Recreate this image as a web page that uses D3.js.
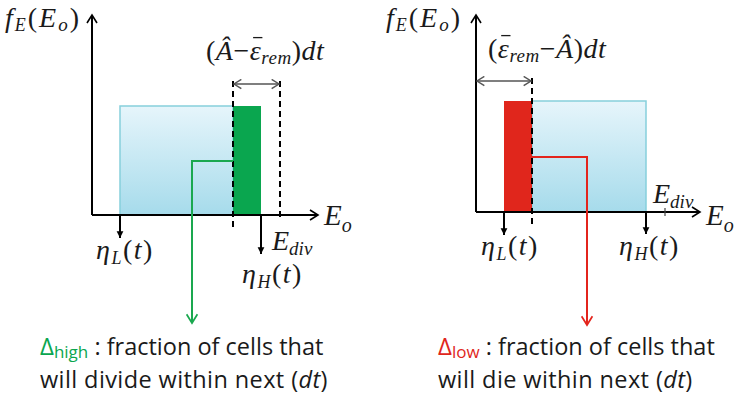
<!DOCTYPE html>
<html>
<head>
<meta charset="utf-8">
<script src="https://cdn.jsdelivr.net/npm/d3@7"></script>
<style>
  body { margin: 0; background: #fff; }
  svg { display: block; }
</style>
</head>
<body>
<script>
// energy values (abstract units) for the two panels: [divide, die]
const panelNames = ["high", "low"];
const etaL = [2.8, 2.8];
const etaH = [16.9, 17.0];
const eCut = [14.1, 5.6];      // where the (A - eps)dt band starts/ends
const eDiv = [18.8, 18.9];
const axisMax = [22.6, 22.4];
const yMax = [1.0, 0.985];
const density = [0.545, 0.555];
const deltaLevel = [0.27, 0.275];
const deltaX = [10.0, 11.1];
const bandColors = ["#0aa64f", "#e0261c"];
const captionLine1 = [" : fraction of cells that", " : fraction of cells that"];
const captionLine2 = ["will divide within next (", "will die within next ("];

const width = 735;
const height = 401;

// layout of each panel
const originX = [92, 476];
const originY = [215, 212];
const pxPerE = 10;
const pxPerY = 200;
const deltaEndY = [323, 325];

const svg = d3.select("body").append("svg")
  .attr("width", width)
  .attr("height", height);

const defs = svg.append("defs");
const grad = defs.append("linearGradient")
  .attr("id", "blueFill")
  .attr("x1", 0).attr("y1", 0).attr("x2", 0).attr("y2", 1);
grad.append("stop").attr("offset", "0%").attr("stop-color", "#e6f5fb");
grad.append("stop").attr("offset", "100%").attr("stop-color", "#a6dbeb");

// open chevron arrowheads
function chevron(id, color, size) {
  defs.append("marker")
    .attr("id", id)
    .attr("viewBox", "-10 -6 12 12")
    .attr("refX", 0).attr("refY", 0)
    .attr("markerWidth", size).attr("markerHeight", size)
    .attr("markerUnits", "userSpaceOnUse")
    .attr("orient", "auto-start-reverse")
    .append("path")
    .attr("d", "M-8,-5L0,0L-8,5")
    .attr("fill", "none")
    .attr("stroke", color)
    .attr("stroke-width", 1.6);
}
chevron("axisHead", "#000", 12);
chevron("dimHead", "#555", 11);
chevron("greenHead", "#1aa84f", 13);
chevron("redHead", "#e3241c", 13);

defs.append("marker")
  .attr("id", "solidHead")
  .attr("viewBox", "-10 -6 12 12")
  .attr("refX", 0).attr("refY", 0)
  .attr("markerWidth", 9).attr("markerHeight", 9)
  .attr("markerUnits", "userSpaceOnUse")
  .attr("orient", "auto")
  .append("path")
  .attr("d", "M-9,-4.5L0,0L-9,4.5Z")
  .attr("fill", "#000");

// rich text with sub/superscripts, parts: {t, size, off, italic, fill, bar}
function rich(g, x, y, parts, font, spacing) {
  const t = g.append("text")
    .attr("x", x).attr("y", y)
    .attr("font-family", font)
    .attr("fill", "#1a1a1a");
  if (spacing) t.attr("letter-spacing", spacing);
  let prev = 0;
  let idx = 0;
  const bars = [];
  parts.forEach(p => {
    const off = p.off || 0;
    const s = t.append("tspan")
      .attr("dy", off - prev)
      .attr("font-size", p.size)
      .text(p.t);
    if (p.italic) s.attr("font-style", "italic");
    if (p.fill) s.attr("fill", p.fill);
    if (p.bar) bars.push([idx, p.size, off]);
    prev = off;
    idx += p.t.length;
  });
  // overbars drawn by hand (combining macron renders badly)
  bars.forEach(([k, size, off]) => {
    const n = t.node();
    const a = n.getStartPositionOfChar(k);
    const b = n.getEndPositionOfChar(k);
    const by = y + off - size * 0.8;
    g.append("line")
      .attr("x1", a.x + size * 0.12).attr("x2", b.x + size * 0.04)
      .attr("y1", by).attr("y2", by)
      .attr("stroke", "#1a1a1a").attr("stroke-width", 1.3);
  });
  return t;
}

const serif = "'Liberation Serif', 'DejaVu Serif', serif";
const sans = "'Open Sans', 'Noto Sans', sans-serif";

panelNames.forEach((name, i) => {
  const x = d3.scaleLinear().domain([0, axisMax[i]])
    .range([originX[i], originX[i] + axisMax[i] * pxPerE]);
  const y = d3.scaleLinear().domain([0, yMax[i]])
    .range([originY[i], originY[i] - yMax[i] * pxPerY]);
  const g = svg.append("g");
  const isHigh = name === "high";
  const col = bandColors[i];

  // blue population box
  const blueLo = isHigh ? etaL[i] : eCut[i];
  const blueHi = isHigh ? eCut[i] : etaH[i];
  g.append("rect")
    .attr("x", x(blueLo)).attr("y", y(density[i]))
    .attr("width", x(blueHi) - x(blueLo))
    .attr("height", y(0) - y(density[i]))
    .attr("fill", "url(#blueFill)")
    .attr("stroke", "#86cfdc")
    .attr("stroke-width", 1.5);

  // coloured band
  const bandLo = isHigh ? eCut[i] : etaL[i];
  const bandHi = isHigh ? etaH[i] : eCut[i];
  g.append("rect")
    .attr("x", x(bandLo)).attr("y", y(density[i]))
    .attr("width", x(bandHi) - x(bandLo))
    .attr("height", y(0) - y(density[i]))
    .attr("fill", col);

  // axes
  g.append("line")
    .attr("x1", x(0)).attr("y1", y(0))
    .attr("x2", x(0)).attr("y2", y(yMax[i]))
    .attr("stroke", "#000").attr("stroke-width", 2)
    .attr("marker-end", "url(#axisHead)");
  g.append("line")
    .attr("x1", x(0)).attr("y1", y(0))
    .attr("x2", x(axisMax[i])).attr("y2", y(0))
    .attr("stroke", "#000").attr("stroke-width", 2)
    .attr("marker-end", "url(#axisHead)");

  // dashed markers
  const dashTop = y(0) - 134;
  g.append("line")
    .attr("x1", x(eCut[i])).attr("x2", x(eCut[i]))
    .attr("y1", dashTop).attr("y2", y(0) + 13)
    .attr("stroke", "#000").attr("stroke-width", 2)
    .attr("stroke-dasharray", "6,4");
  if (isHigh) {
    g.append("line")
      .attr("x1", x(eDiv[i])).attr("x2", x(eDiv[i]))
      .attr("y1", dashTop).attr("y2", y(0) + 2)
      .attr("stroke", "#000").attr("stroke-width", 2)
      .attr("stroke-dasharray", "6,4");
  } else {
    g.append("line")
      .attr("x1", x(eDiv[i])).attr("x2", x(eDiv[i]))
      .attr("y1", y(0) - 4).attr("y2", y(0) + 4)
      .attr("stroke", "#444").attr("stroke-width", 1.2);
  }

  // (A - eps) dt dimension arrow
  const dimA = isHigh ? eCut[i] : 0;
  const dimB = isHigh ? eDiv[i] : eCut[i];
  g.append("line")
    .attr("x1", x(dimA) + 1).attr("x2", x(dimB) - 1)
    .attr("y1", dashTop + 3).attr("y2", dashTop + 3)
    .attr("stroke", "#555").attr("stroke-width", 1.3)
    .attr("marker-start", "url(#dimHead)")
    .attr("marker-end", "url(#dimHead)");

  // eta markers
  [[etaL[i], 23], [etaH[i], isHigh ? 39 : 22]].forEach(([e, len]) => {
    g.append("line")
      .attr("x1", x(e)).attr("x2", x(e))
      .attr("y1", y(0)).attr("y2", y(0) + len)
      .attr("stroke", "#000").attr("stroke-width", 2)
      .attr("marker-end", "url(#solidHead)");
  });

  // delta leader line
  const lead = d3.line()([
    [x(eCut[i]), y(deltaLevel[i])],
    [x(deltaX[i]), y(deltaLevel[i])],
    [x(deltaX[i]), deltaEndY[i]]
  ]);
  g.append("path")
    .attr("d", lead)
    .attr("fill", "none")
    .attr("stroke", isHigh ? "#1aa84f" : "#e3241c")
    .attr("stroke-width", 2)
    .attr("marker-end", isHigh ? "url(#greenHead)" : "url(#redHead)");

  // labels
  rich(g, isHigh ? 5 : 386, 27, [
    { t: "f", size: 28, italic: true },
    { t: "E", size: 18, italic: true, off: 4 },
    { t: "(", size: 28 },
    { t: "E", size: 28, italic: true },
    { t: "o", size: 19, italic: true, off: 4 },
    { t: ")", size: 28 }
  ], serif, 2);

  const sz = 28;
  if (isHigh) {
    rich(g, 206, 60, [
      { t: "(", size: sz },
      { t: "Â", size: sz, italic: true },
      { t: "\u2212", size: sz },
      { t: "\u03b5", size: sz, italic: true, bar: true },
      { t: "rem", size: 19, italic: true, off: 4 },
      { t: ")", size: sz },
      { t: "dt", size: sz, italic: true }
    ], serif, 0.5);
  } else {
    rich(g, 488, 58, [
      { t: "(", size: sz },
      { t: "\u03b5", size: sz, italic: true, bar: true },
      { t: "rem", size: 19, italic: true, off: 4 },
      { t: "\u2212", size: sz },
      { t: "Â", size: sz, italic: true },
      { t: ")", size: sz },
      { t: "dt", size: sz, italic: true }
    ], serif, 0.5);
  }

  // E_o axis label
  rich(g, x(axisMax[i]) + 6, 225, [
    { t: "E", size: 29, italic: true },
    { t: "o", size: 20, italic: true, off: 7 }
  ], serif);

  // E_div label
  rich(g, isHigh ? 272 : 653, isHigh ? 250 : 203, [
    { t: "E", size: 28, italic: true },
    { t: "div", size: 19, italic: true, off: 5 }
  ], serif);

  // eta labels
  const etaLbl = (px, py, sub) => rich(g, px, py, [
    { t: "\u03b7", size: 28, italic: true },
    { t: sub, size: 18, italic: true, off: 5 },
    { t: "(", size: 28, off: 0 },
    { t: "t", size: 28, italic: true },
    { t: ")", size: 28 }
  ], serif, 1.5);
  etaLbl(isHigh ? 96 : 481, isHigh ? 259 : 255, "L");
  etaLbl(isHigh ? 242 : 619, isHigh ? 283 : 255, "H");

  // caption
  const cx = isHigh ? 40 : 438;
  rich(g, cx, 355, [
    { t: "\u0394", size: 24, fill: col },
    { t: name, size: 17, fill: col, off: 3 },
    { t: captionLine1[i], size: 23.5, off: 0 }
  ], sans);
  rich(g, cx, 388, [
    { t: captionLine2[i], size: 23.5 },
    { t: "dt", size: 23.5, italic: true },
    { t: ")", size: 23.5 }
  ], sans, 0.4);
});
</script>
</body>
</html>
